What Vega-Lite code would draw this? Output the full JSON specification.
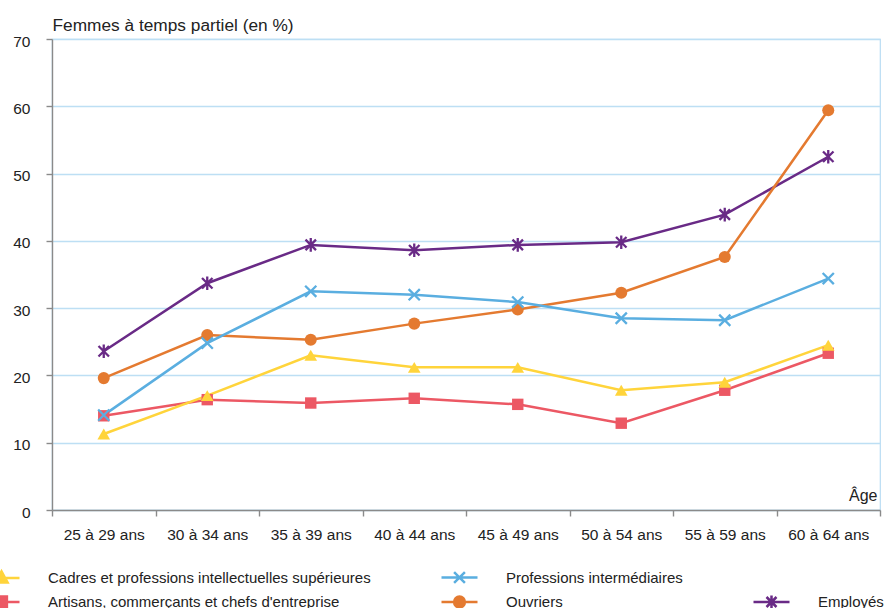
{
  "$schema": "https://vega.github.io/schema/vega-lite/v6.json",
  "width": 828,
  "height": 471,
  "autosize": {"type": "none"},
  "padding": {"left": 52, "top": 39, "right": 15, "bottom": 98},
  "background": "white",
  "config": {
    "font": "Liberation Sans",
    "view": {"stroke": "#b9dcf3", "strokeWidth": 1.2},
    "axis": {
      "labelFont": "Liberation Sans",
      "titleFont": "Liberation Sans",
      "labelColor": "#222222",
      "titleColor": "#222222",
      "domainColor": "#8a8a8a",
      "tickColor": "#8a8a8a",
      "domainWidth": 1.4,
      "tickWidth": 1.4,
      "tickSize": 6,
      "labelFontSize": 15.5,
      "titleFontWeight": "normal"
    },
    "legend": {
      "labelFont": "Liberation Sans",
      "labelFontSize": 15,
      "labelColor": "#222222"
    }
  },
  "data": {
    "values": [
      {"age": "25 à 29 ans", "cat": "Employés", "v": 23.6},
      {"age": "30 à 34 ans", "cat": "Employés", "v": 33.7},
      {"age": "35 à 39 ans", "cat": "Employés", "v": 39.4},
      {"age": "40 à 44 ans", "cat": "Employés", "v": 38.6},
      {"age": "45 à 49 ans", "cat": "Employés", "v": 39.4},
      {"age": "50 à 54 ans", "cat": "Employés", "v": 39.8},
      {"age": "55 à 59 ans", "cat": "Employés", "v": 43.9},
      {"age": "60 à 64 ans", "cat": "Employés", "v": 52.5},
      {"age": "25 à 29 ans", "cat": "Ouvriers", "v": 19.6},
      {"age": "30 à 34 ans", "cat": "Ouvriers", "v": 26.0},
      {"age": "35 à 39 ans", "cat": "Ouvriers", "v": 25.3},
      {"age": "40 à 44 ans", "cat": "Ouvriers", "v": 27.7},
      {"age": "45 à 49 ans", "cat": "Ouvriers", "v": 29.8},
      {"age": "50 à 54 ans", "cat": "Ouvriers", "v": 32.3},
      {"age": "55 à 59 ans", "cat": "Ouvriers", "v": 37.6},
      {"age": "60 à 64 ans", "cat": "Ouvriers", "v": 59.4},
      {"age": "25 à 29 ans", "cat": "Artisans, commerçants et chefs d'entreprise", "v": 14.0},
      {"age": "30 à 34 ans", "cat": "Artisans, commerçants et chefs d'entreprise", "v": 16.4},
      {"age": "35 à 39 ans", "cat": "Artisans, commerçants et chefs d'entreprise", "v": 15.9},
      {"age": "40 à 44 ans", "cat": "Artisans, commerçants et chefs d'entreprise", "v": 16.6},
      {"age": "45 à 49 ans", "cat": "Artisans, commerçants et chefs d'entreprise", "v": 15.7},
      {"age": "50 à 54 ans", "cat": "Artisans, commerçants et chefs d'entreprise", "v": 12.9},
      {"age": "55 à 59 ans", "cat": "Artisans, commerçants et chefs d'entreprise", "v": 17.8},
      {"age": "60 à 64 ans", "cat": "Artisans, commerçants et chefs d'entreprise", "v": 23.3},
      {"age": "25 à 29 ans", "cat": "Cadres et professions intellectuelles supérieures", "v": 11.3},
      {"age": "30 à 34 ans", "cat": "Cadres et professions intellectuelles supérieures", "v": 17.0},
      {"age": "35 à 39 ans", "cat": "Cadres et professions intellectuelles supérieures", "v": 23.0},
      {"age": "40 à 44 ans", "cat": "Cadres et professions intellectuelles supérieures", "v": 21.2},
      {"age": "45 à 49 ans", "cat": "Cadres et professions intellectuelles supérieures", "v": 21.2},
      {"age": "50 à 54 ans", "cat": "Cadres et professions intellectuelles supérieures", "v": 17.8},
      {"age": "55 à 59 ans", "cat": "Cadres et professions intellectuelles supérieures", "v": 19.0},
      {"age": "60 à 64 ans", "cat": "Cadres et professions intellectuelles supérieures", "v": 24.5},
      {"age": "25 à 29 ans", "cat": "Professions intermédiaires", "v": 14.1},
      {"age": "30 à 34 ans", "cat": "Professions intermédiaires", "v": 24.8},
      {"age": "35 à 39 ans", "cat": "Professions intermédiaires", "v": 32.5},
      {"age": "40 à 44 ans", "cat": "Professions intermédiaires", "v": 32.0},
      {"age": "45 à 49 ans", "cat": "Professions intermédiaires", "v": 30.9},
      {"age": "50 à 54 ans", "cat": "Professions intermédiaires", "v": 28.5},
      {"age": "55 à 59 ans", "cat": "Professions intermédiaires", "v": 28.2},
      {"age": "60 à 64 ans", "cat": "Professions intermédiaires", "v": 34.4}
    ]
  },
  "encoding": {
    "x": {
      "field": "age",
      "type": "nominal",
      "sort": null,
      "scale": {"paddingInner": 0, "paddingOuter": 0},
      "axis": {
        "title": "Âge",
        "titleFontSize": 16,
        "titleX": 825,
        "titleY": -10,
        "titleAlign": "right",
        "titleBaseline": "alphabetic",
        "labelAngle": 0,
        "labelPadding": 11,
        "tickBand": "extent",
        "grid": false
      }
    },
    "y": {
      "field": "v",
      "type": "quantitative",
      "scale": {"domain": [0, 70], "nice": false},
      "axis": {
        "title": "Femmes à temps partiel (en %)",
        "titleFontSize": 17.3,
        "titleAngle": 0,
        "titleX": 0,
        "titleY": -9,
        "titleAlign": "left",
        "titleBaseline": "alphabetic",
        "values": [0, 10, 20, 30, 40, 50, 60, 70],
        "labelPadding": 16,
        "labelOffset": 2,
        "grid": true,
        "gridColor": "#bddff4",
        "gridWidth": 1.5
      }
    }
  },
  "layer": [
    {
      "mark": {"type": "line", "strokeWidth": 2.5},
      "encoding": {
        "color": {
          "field": "cat",
          "type": "nominal",
          "scale": {
            "domain": ["Cadres et professions intellectuelles supérieures", "Artisans, commerçants et chefs d'entreprise", "Professions intermédiaires", "Ouvriers", " ", "Employés"],
            "range": ["#ffd43b", "#ec5864", "#5aaee0", "#e47a30", "rgba(0,0,0,0)", "#692a86"]
          },
          "legend": {
            "title": null,
            "orient": "none",
            "legendX": -58,
            "legendY": 531,
            "columns": 3,
            "columnPadding": 65,
            "rowPadding": 2.5,
            "padding": 0,
            "labelOffset": 39,
            "labelLimit": 500,
            "symbolSize": 100,
            "symbolStrokeWidth": 2.5,
            "encode": {
              "symbols": {
                "update": {
                  "shape": {"signal": "datum.value === 'Cadres et professions intellectuelles supérieures' ? 'M-3.6,0H3.6M0,-1.3L1.22,0.94L-1.22,0.94Z' : datum.value === 'Artisans, commerçants et chefs d\\'entreprise' ? 'M-3.6,0H3.6M-1.08,-1.08H1.08V1.08H-1.08Z' : datum.value === 'Professions intermédiaires' ? 'M-3.6,0H3.6M-1.08,-1.08L1.08,1.08M-1.08,1.08L1.08,-1.08' : datum.value === 'Ouvriers' ? 'M-3.6,0H3.6M1.08,0A1.08,1.08,0,1,1,-1.08,0A1.08,1.08,0,1,1,1.08,0Z' : datum.value === 'Employés' ? 'M-3.6,0H3.6M-1,-1L1,1M-1,1L1,-1M0,-1.3V1.3' : 'M0,0'"},
                  "fill": {"scale": "color", "field": "value"},
                  "strokeWidth": {"value": 2.5}
                }
              }
            }
          }
        }
      }
    },
    {
      "transform": [{"filter": "datum.cat === 'Ouvriers'"}],
      "mark": {"type": "point", "shape": "circle", "filled": true, "color": "#e47a30", "opacity": 1, "size": 145}
    },
    {
      "transform": [{"filter": "datum.cat === 'Artisans, commerçants et chefs d\\'entreprise'"}],
      "mark": {"type": "point", "shape": "square", "filled": true, "color": "#ec5864", "opacity": 1, "size": 130}
    },
    {
      "transform": [{"filter": "datum.cat === 'Cadres et professions intellectuelles supérieures'"}],
      "mark": {"type": "point", "shape": "triangle-up", "filled": true, "color": "#ffd43b", "opacity": 1, "size": 160}
    },
    {
      "transform": [{"filter": "datum.cat === 'Employés'"}],
      "mark": {"type": "point", "shape": "M-1,-1L1,1M-1,1L1,-1M0,-1.3L0,1.3", "filled": false, "color": "#692a86", "opacity": 1, "size": 110, "strokeWidth": 2.3}
    },
    {
      "transform": [{"filter": "datum.cat === 'Professions intermédiaires'"}],
      "mark": {"type": "point", "shape": "M-1,-1L1,1M-1,1L1,-1", "filled": false, "color": "#5aaee0", "opacity": 1, "size": 125, "strokeWidth": 2.3}
    }
  ]
}
